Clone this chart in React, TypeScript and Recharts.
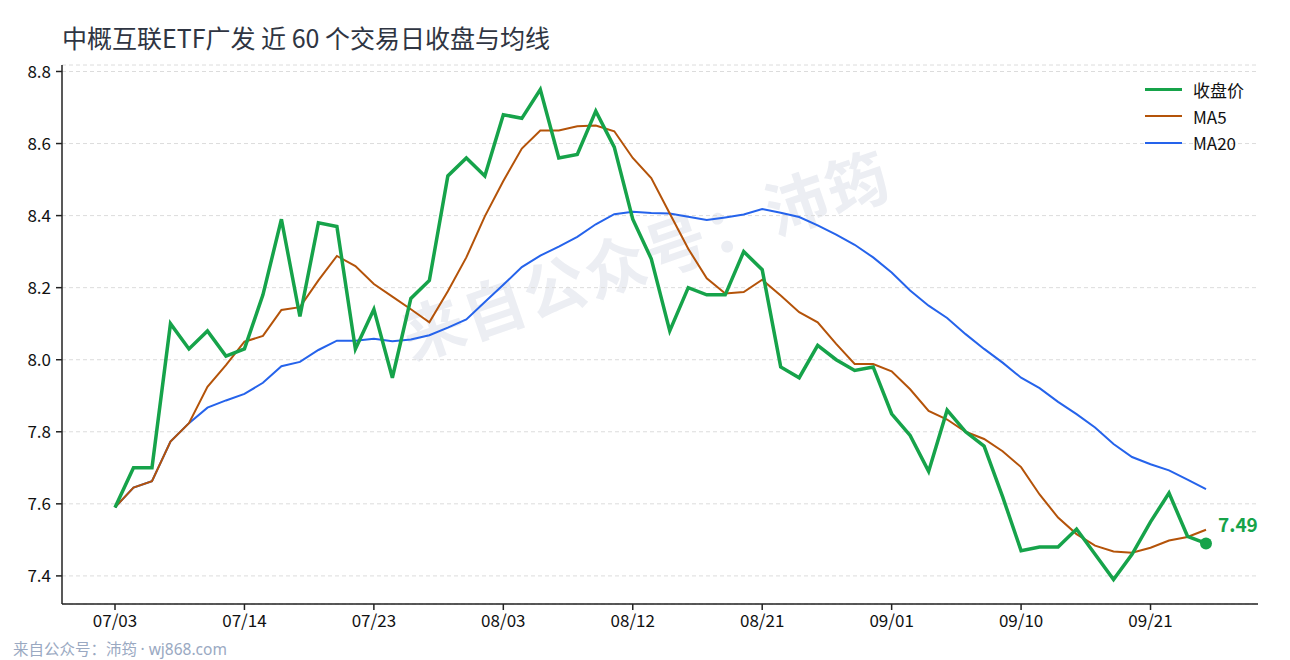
import React from 'react';
import { LineChart, Line, XAxis, YAxis, CartesianGrid } from 'recharts';

const DATES = [
    '07/03', '07/06', '07/07', '07/08', '07/09', '07/10', '07/13', '07/14', '07/15', '07/16',
    '07/17', '07/20', '07/21', '07/22', '07/23', '07/24', '07/27', '07/28', '07/29', '07/30',
    '07/31', '08/03', '08/04', '08/05', '08/06', '08/07', '08/10', '08/11', '08/12', '08/13',
    '08/14', '08/17', '08/18', '08/19', '08/20', '08/21', '08/24', '08/25', '08/26', '08/27',
    '08/28', '08/31', '09/01', '09/02', '09/03', '09/04', '09/07', '09/08', '09/09', '09/10',
    '09/11', '09/14', '09/15', '09/16', '09/17', '09/18', '09/21', '09/22', '09/23', '09/24',
];

const CLOSE = [
    7.59, 7.70, 7.70, 8.10, 8.03, 8.08, 8.01, 8.03, 8.18, 8.39,
    8.12, 8.38, 8.37, 8.03, 8.14, 7.95, 8.17, 8.22, 8.51, 8.56,
    8.51, 8.68, 8.67, 8.75, 8.56, 8.57, 8.69, 8.59, 8.39, 8.28,
    8.08, 8.20, 8.18, 8.18, 8.30, 8.25, 7.98, 7.95, 8.04, 8.00,
    7.97, 7.98, 7.85, 7.79, 7.69, 7.86, 7.80, 7.76, 7.62, 7.47,
    7.48, 7.48, 7.53, 7.46, 7.39, 7.46, 7.55, 7.63, 7.51, 7.49,
];

const MA5 = [
    7.59, 7.645, 7.663, 7.773, 7.824, 7.925, 7.985, 8.05, 8.066, 8.138,
    8.146, 8.22, 8.288, 8.26, 8.21, 8.175, 8.14, 8.104, 8.19, 8.284,
    8.398, 8.496, 8.586, 8.636, 8.636, 8.648, 8.65, 8.634, 8.56, 8.504,
    8.406, 8.308, 8.226, 8.184, 8.188, 8.222, 8.178, 8.132, 8.104, 8.044,
    7.988, 7.988, 7.968, 7.918, 7.858, 7.834, 7.8, 7.78, 7.746, 7.702,
    7.626, 7.562, 7.516, 7.484, 7.468, 7.464, 7.478, 7.498, 7.508, 7.528,
];

const MA20 = [
    7.59, 7.645, 7.663, 7.773, 7.824, 7.867, 7.887, 7.905, 7.936, 7.982,
    7.994, 8.027, 8.053, 8.053, 8.058, 8.051, 8.056, 8.068, 8.089, 8.112,
    8.16, 8.208, 8.257, 8.289, 8.314, 8.341, 8.376, 8.404, 8.411, 8.407,
    8.406, 8.397, 8.388, 8.395, 8.403, 8.418, 8.408, 8.396, 8.373, 8.347,
    8.319, 8.284, 8.242, 8.192, 8.15, 8.116, 8.071, 8.03, 7.992, 7.95,
    7.921, 7.883, 7.849, 7.812, 7.766, 7.73, 7.71, 7.693, 7.667, 7.641,
];

const TICK_DATES = ['07/03', '07/14', '07/23', '08/03', '08/12', '08/21', '09/01', '09/10', '09/21'];
const Y_TICKS = [7.4, 7.6, 7.8, 8.0, 8.2, 8.4, 8.6, 8.8];

const TITLE = '中概互联ETF广发 近 60 个交易日收盘与均线';
const WATERMARK = '来自公众号：沛筠';
const FOOTER = '来自公众号：沛筠 · wj868.com';

const FONT = '"Noto Sans CJK SC", "Noto Sans", sans-serif';
const LATIN_FIRST = '"Noto Sans", "Noto Sans CJK SC", sans-serif';
const GREEN = '#16a34a';
const ORANGE = '#b45309';
const BLUE = '#2563eb';

const data = DATES.map((d, i) => ({ date: d, close: CLOSE[i], ma5: MA5[i], ma20: MA20[i] }));
const LAST = data.length - 1;

const LEGEND = [
    { name: '收盘价', color: GREEN, width: 3.5 },
    { name: 'MA5', color: ORANGE, width: 2 },
    { name: 'MA20', color: BLUE, width: 2 },
];

// only the last close gets a dot + value label
const LastDot = (props: any) => {
    const { cx, cy, index } = props;
    if (index !== LAST) return <g key={`d-${index}`} />;
    return (
        <g key={`d-${index}`}>
            <circle cx={cx} cy={cy} r={6} fill={GREEN} />
            <text x={cx + 12} y={cy - 20} fill={GREEN} fontSize={19} fontWeight={700} fontFamily={FONT} dominantBaseline="central">
                {CLOSE[LAST].toFixed(2)}
            </text>
        </g>
    );
};

export default function App() {
    return (
        <div style={{ position: 'absolute', left: 0, top: 0, width: 1290, height: 660, background: '#fff', fontFamily: FONT, overflow: 'hidden' }}>
            {/* watermark, behind the lines */}
            <div
                style={{
                    position: 'absolute', left: 645, top: 252, transform: 'translate(-50%, -50%) rotate(-19deg)',
                    fontSize: 62, fontWeight: 700, color: '#eceef3', whiteSpace: 'nowrap', letterSpacing: 2,
                }}
            >
                {WATERMARK}
            </div>

            <div style={{ position: 'absolute', left: 62, top: 19, fontSize: 25, color: '#2f3542', whiteSpace: 'nowrap' }}>
                {TITLE}
            </div>

            <div style={{ position: 'absolute', left: 0, top: 0 }}>
                <LineChart width={1290} height={660} data={data} margin={{ top: 65, right: 32, bottom: 0, left: 0 }}>
                    <CartesianGrid vertical={false} stroke="#dcdcdc" strokeDasharray="4 3" />
                    <XAxis
                        dataKey="date"
                        ticks={TICK_DATES}
                        interval={0}
                        height={56}
                        padding={{ left: 53, right: 52 }}
                        tick={{ fontSize: 17, fill: '#111', fontFamily: FONT }}
                        tickSize={6}
                        tickMargin={5}
                        axisLine={{ stroke: '#222', strokeWidth: 1.5 }}
                        tickLine={{ stroke: '#222', strokeWidth: 1.5 }}
                    />
                    <YAxis
                        domain={[7.322, 8.818]}
                        ticks={Y_TICKS}
                        width={62}
                        tickFormatter={(v: number) => v.toFixed(1)}
                        tick={{ fontSize: 17, fill: '#111', fontFamily: FONT }}
                        tickSize={6}
                        tickMargin={5}
                        axisLine={{ stroke: '#222', strokeWidth: 1.5 }}
                        tickLine={{ stroke: '#222', strokeWidth: 1.5 }}
                        allowDataOverflow
                    />
                    <Line dataKey="ma20" stroke={BLUE} strokeWidth={2} dot={false} isAnimationActive={false} />
                    <Line dataKey="ma5" stroke={ORANGE} strokeWidth={2} dot={false} isAnimationActive={false} />
                    <Line dataKey="close" stroke={GREEN} strokeWidth={3.5} dot={LastDot} activeDot={false} isAnimationActive={false} />
                </LineChart>
            </div>

            {/* Legend */}
            <div style={{ position: 'absolute', left: 1145, top: 76 }}>
                {LEGEND.map((item) => (
                    <div key={item.name} style={{ display: 'flex', alignItems: 'center', height: 26.7 }}>
                        <div style={{ width: 37, height: item.width, background: item.color }} />
                        <span style={{ marginLeft: 11, fontSize: 17, color: '#111', lineHeight: 1 }}>{item.name}</span>
                    </div>
                ))}
            </div>

            <div style={{ position: 'absolute', left: 13, top: 637, fontSize: 15.5, color: '#9aa9c2', whiteSpace: 'nowrap', fontFamily: FONT }}>
                来自公众号：沛筠 <span style={{ fontFamily: LATIN_FIRST }}>· wj868.com</span>
            </div>
        </div>
    );
}
